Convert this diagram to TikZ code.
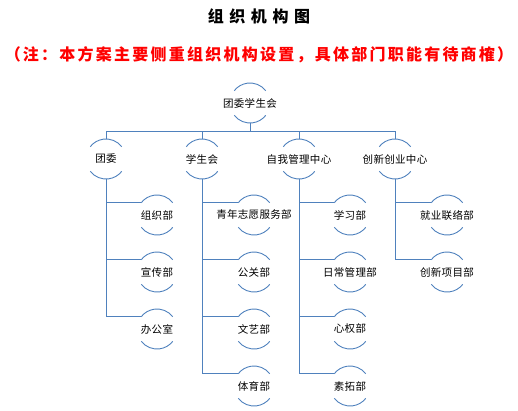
\documentclass[tikz,border=0pt]{standalone}
\usepackage{fontspec}
\newfontfamily\cjk{Noto Sans CJK SC}
\definecolor{unitblue}{RGB}{79,129,189}
\newcommand*{\drawcaps}[1]{%
    \draw[capline] (#1.38) arc[start angle=38, end angle=142, radius=20pt];
    \draw[capline] (#1.218) arc[start angle=218, end angle=322, radius=20pt];
}
\tikzset{
    unit/.style={shape=circle, minimum size=40pt, inner sep=0pt, outer sep=0pt, label={[font=\cjk\fontsize{10.5}{12}\selectfont\addfontfeature{LetterSpace=3}, inner sep=0pt]center:#1}},
    capline/.style={draw=unitblue, line width=0.9pt},
    conn/.style={draw=unitblue, line width=1pt}
}

\begin{document}
\begin{tikzpicture}[x=1pt,y=-1pt,line cap=butt,line join=miter]
    \useasboundingbox (0,0) rectangle (518,410);
    \node[font=\cjk\bfseries\fontsize{16}{18}\selectfont\addfontfeature{LetterSpace=35}] (title) at (259,16) {组织机构图};
    \node[font=\cjk\bfseries\fontsize{16}{18}\selectfont\addfontfeature{LetterSpace=14}, text=red, inner sep=0pt] (note) at (259,55) {（注：本方案主要侧重组织机构设置，具体部门职能有待商榷）};
    \node[unit=团委学生会] (root) at (250,103) {};
    \node[unit=团委] (tw) at (106,159) {};
    \node[unit=学生会] (xsh) at (202,159) {};
    \node[unit=自我管理中心] (zw) at (299,159) {};
    \node[unit=创新创业中心] (cx) at (395,159) {};
    \node[unit=组织部] (zzb) at (157,215) {};
    \node[unit=宣传部] (xcb) at (157,272) {};
    \node[unit=办公室] (bgs) at (157,329) {};
    \node[unit=青年志愿服务部] (qnzy) at (254,215) {};
    \node[unit=公关部] (ggb) at (254,272) {};
    \node[unit=文艺部] (wyb) at (254,329) {};
    \node[unit=体育部] (tyb) at (254,386) {};
    \node[unit=学习部] (xxb) at (350,215) {};
    \node[unit=日常管理部] (rcgl) at (350,272) {};
    \node[unit=心权部] (xqb) at (350,329) {};
    \node[unit=素拓部] (stb) at (350,386) {};
    \node[unit=就业联络部] (jylx) at (447,215) {};
    \node[unit=创新项目部] (cxxm) at (447,272) {};
    \foreach \n in {root,tw,xsh,zw,cx,zzb,xcb,bgs,qnzy,ggb,wyb,tyb,xxb,rcgl,xqb,stb,jylx,cxxm}
        {\drawcaps{\n}}
    \foreach \n in {tw,xsh,zw,cx}
        \draw[conn] (root.south) -- ++(0,8) -| (\n.north);
    \foreach \n in {zzb,xcb,bgs}
        \draw[conn] (tw.south) |- (\n.142);
    \foreach \n in {qnzy,ggb,wyb,tyb}
        \draw[conn] (xsh.south) |- (\n.142);
    \foreach \n in {xxb,rcgl,xqb,stb}
        \draw[conn] (zw.south) |- (\n.142);
    \foreach \n in {jylx,cxxm}
        \draw[conn] (cx.south) |- (\n.142);
\end{tikzpicture}
\end{document}
